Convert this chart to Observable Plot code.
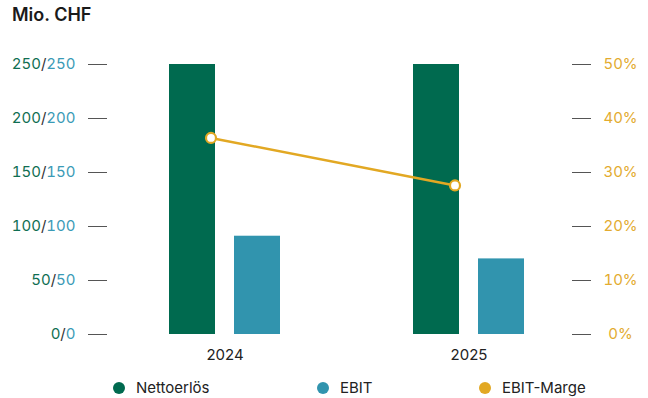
<!DOCTYPE html>
<html><head><meta charset="utf-8">
<script src="https://cdn.jsdelivr.net/npm/d3@7"></script>
<script src="https://cdn.jsdelivr.net/npm/@observablehq/plot@0.6"></script>
<style>
body{margin:0;background:#fff;font-family:Inter,"Noto Sans",sans-serif;}
#wrap{position:relative;width:648px;height:398px;overflow:hidden}
#title{position:absolute;left:12px;top:4px;font-size:18px;font-weight:600;color:#1a1a1a;}
#chart{position:absolute;left:0;top:36px;}
.item{position:absolute;top:379px;display:flex;align-items:center;font-size:15px;color:#222;line-height:18px}
.sw{width:12px;height:12px;border-radius:50%;margin-right:11px}
</style></head>
<body>
<div id="wrap">
  <div id="title">Mio. CHF</div>
  <div id="chart"></div>
  <div class="item" style="left:113px"><span class="sw" style="background:#006a4f"></span>Nettoerlös</div>
  <div class="item" style="left:317px"><span class="sw" style="background:#3194ae"></span>EBIT</div>
  <div class="item" style="left:479px"><span class="sw" style="background:#e2a823"></span>EBIT-Marge</div>
</div>
<script>
const years = ["2024", "2025"];
const nettoerloes = [250, 250];
const ebit = [91, 70];
const ebitMarge = [36.4, 27.6];
const leftTicks = [0, 50, 100, 150, 200, 250];
const rightTicks = [0, 10, 20, 30, 40, 50];

const data = years.map((y, i) => ({year: y, netto: nettoerloes[i], ebit: ebit[i], marge: ebitMarge[i]}));
const k = 250 / 50;

const plot = Plot.plot({
  width: 648, height: 336,
  marginTop: 28, marginBottom: 38, marginLeft: 107, marginRight: 77,
  style: {fontFamily: "Inter, sans-serif", fontSize: "15px", background: "transparent"},
  x: {domain: years, paddingInner: 0.546, paddingOuter: 0.2219, align: 0.571},
  y: {domain: [0, 250]},
  marks: [
    Plot.barY(data, {x: "year", y: "netto", fill: "#006a4f", insetRight: 65}),
    Plot.barY(data, {x: "year", y: "ebit", fill: "#3194ae", insetLeft: 65}),
    Plot.line(data, {x: "year", y: d => d.marge * k, stroke: "#e2a823", strokeWidth: 2.5, dx: -14}),
    Plot.dot(data, {x: "year", y: d => d.marge * k, r: 5, fill: "white", stroke: "#e2a823", strokeWidth: 2.2, dx: -14}),
    Plot.axisY(leftTicks, {anchor: "left", tickSize: 19, tickPadding: 13, stroke: "#555", fill: "#0f6e52", tickFormat: d => d + "/" + d, label: null}),
    Plot.axisY(rightTicks.map(d => d * k), {anchor: "right", tickSize: 19, tickPadding: 30, textAnchor: "middle", stroke: "#555", fill: "#e3ab2f", tickFormat: d => (d / k) + "%", label: null}),
    Plot.axisX({tickSize: 0, tickPadding: 15, label: null, fill: "#222"})
  ]
});

d3.select(plot).selectAll('g[aria-label="y-axis tick label"] text').each(function() {
  const t = this.textContent;
  if (!t.includes("/")) return;
  const [a, b] = t.split("/");
  const s = d3.select(this);
  s.text(null);
  s.append("tspan").attr("fill", "#0f6e52").text(a);
  s.append("tspan").attr("fill", "#333").text("/");
  s.append("tspan").attr("fill", "#3a9ab6").text(b);
});

document.getElementById("chart").appendChild(plot);
</script>
</body></html>
